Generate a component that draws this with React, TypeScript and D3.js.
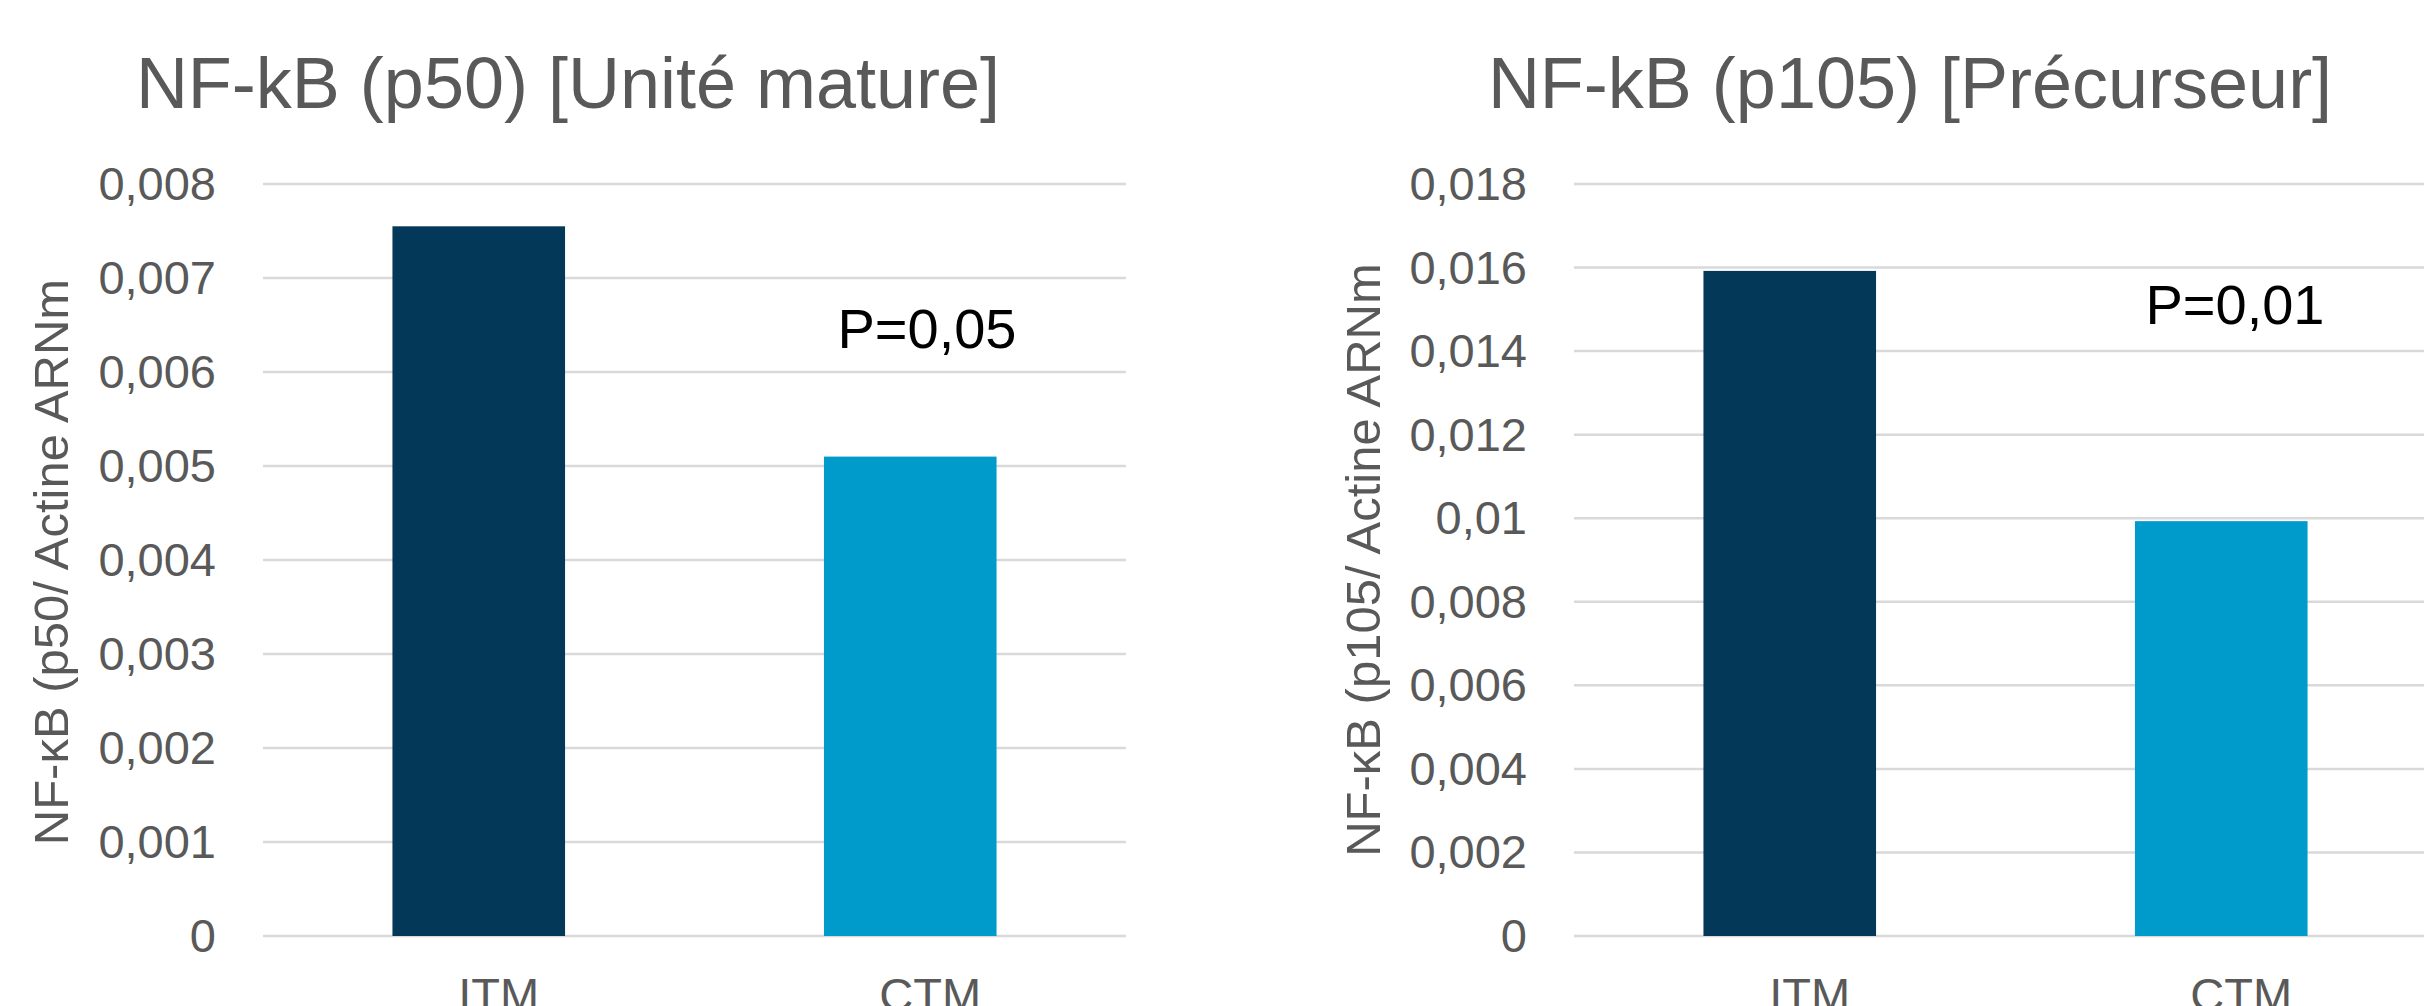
import React from "react";
import * as d3 from "d3";

const categories = ["ITM", "CTM"];
const p50Values = [0.00755, 0.0051];
const p105Values = [0.01592, 0.00993];
const p50Ticks = [0, 0.001, 0.002, 0.003, 0.004, 0.005, 0.006, 0.007, 0.008];
const p105Ticks = [0, 0.002, 0.004, 0.006, 0.008, 0.01, 0.012, 0.014, 0.016, 0.018];
const barColors = ["#033858", "#009ACB"];

const frLocale = d3.formatLocale({ decimal: ",", thousands: " ", grouping: [3], currency: ["", " €"] });
const fmt = frLocale.format("~g");

const FONT = "'Liberation Sans', Arial, Helvetica, sans-serif";
const GRAY = "#595959";

type PanelProps = {
  x0: number;
  x1: number;
  title: string;
  titleX: number;
  yTitle: string;
  yTitleX: number;
  yTitleY: number;
  values: number[];
  ticks: number[];
  pText: string;
  pX: number;
  pY: number;
};

function Panel(props: PanelProps) {
  const { x0, x1, title, titleX, yTitle, yTitleX, yTitleY, values, ticks, pText, pX, pY } = props;
  const yBottom = 936;
  const yTop = 184;
  const y = d3.scaleLinear().domain([0, ticks[ticks.length - 1]]).range([yBottom, yTop]);
  const x = d3.scaleBand<string>().domain(categories).range([x0, x1]).paddingInner(0.6).paddingOuter(0.3);
  return (
    <g>
      <text x={titleX} y={108} textAnchor="middle" fontFamily={FONT} fontSize={72} fill={GRAY}>
        {title}
      </text>
      {ticks.map((t) => (
        <g key={t}>
          <line x1={x0} x2={x1} y1={y(t)} y2={y(t)} stroke="#D9D9D9" strokeWidth={2.5} />
          <text x={x0 - 47} y={y(t) + 16} textAnchor="end" fontFamily={FONT} fontSize={47} fill={GRAY}>
            {fmt(t)}
          </text>
        </g>
      ))}
      {values.map((v, i) => (
        <rect
          key={categories[i]}
          x={x(categories[i])}
          width={x.bandwidth()}
          y={y(v)}
          height={yBottom - y(v)}
          fill={barColors[i]}
        />
      ))}
      {categories.map((c) => (
        <text
          key={c}
          x={(x(c) as number) + x.bandwidth() / 2 + 20}
          y={1011}
          textAnchor="middle"
          fontFamily={FONT}
          fontSize={47}
          fill={GRAY}
        >
          {c}
        </text>
      ))}
      <text
        transform={`translate(${yTitleX},${yTitleY}) rotate(-90)`}
        textAnchor="middle"
        fontFamily={FONT}
        fontSize={49}
        fill={GRAY}
      >
        {yTitle}
      </text>
      <text x={pX} y={pY} textAnchor="middle" fontFamily={FONT} fontSize={56} fill="#000000">
        {pText}
      </text>
    </g>
  );
}

export default function App() {
  return (
    <svg
      width={2424}
      height={1006}
      style={{ position: "absolute", left: 0, top: 0, background: "#ffffff" }}
    >
      <rect x={0} y={0} width={2424} height={1006} fill="#ffffff" />
      <Panel
        x0={263}
        x1={1126}
        title="NF-kB (p50) [Unité mature]"
        titleX={568}
        yTitle="NF-κB (p50/ Actine ARNm"
        yTitleX={68}
        yTitleY={562}
        values={p50Values}
        ticks={p50Ticks}
        pText="P=0,05"
        pX={927}
        pY={348}
      />
      <Panel
        x0={1574}
        x1={2437}
        title="NF-kB (p105) [Précurseur]"
        titleX={1910}
        yTitle="NF-κB (p105/ Actine ARNm"
        yTitleX={1380}
        yTitleY={560}
        values={p105Values}
        ticks={p105Ticks}
        pText="P=0,01"
        pX={2235}
        pY={324}
      />
    </svg>
  );
}
